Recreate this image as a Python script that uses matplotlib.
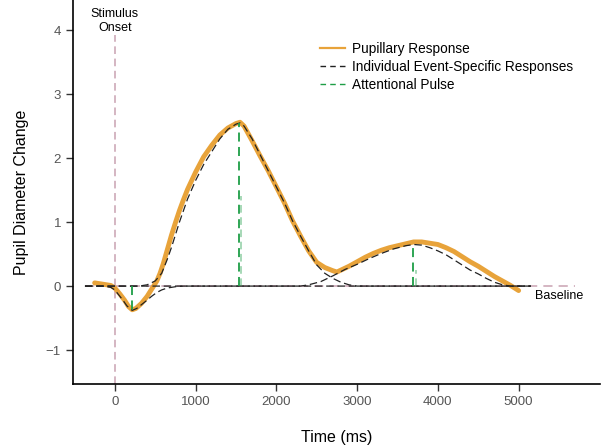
import numpy as np
import matplotlib.pyplot as plt
from matplotlib.lines import Line2D

plt.rcParams['font.family'] = ['Liberation Sans', 'DejaVu Sans']

# Pupillary response
t_pupil = [-250, -150, -50, 0, 60, 120, 170, 215, 260, 330, 400, 455, 520, 560,
           600, 650, 700, 750, 800, 850, 900, 1000, 1100, 1200, 1300, 1400,
           1500, 1550, 1600, 1700, 1800, 1900, 2000, 2100, 2200, 2300, 2400,
           2500, 2600, 2700, 2750, 2800, 2900, 3000, 3100, 3200, 3300, 3400,
           3500, 3600, 3700, 3800, 3900, 4000, 4100, 4200, 4300, 4400, 4500,
           4600, 4700, 4800, 4900, 5000]
pupil = [0.05, 0.03, 0.01, -0.03, -0.12, -0.22, -0.32, -0.37, -0.35, -0.27,
         -0.16, -0.05, 0.08, 0.20, 0.35, 0.57, 0.79, 0.99, 1.18, 1.35, 1.51,
         1.78, 2.02, 2.20, 2.36, 2.47, 2.54, 2.56, 2.50, 2.27, 2.03, 1.80,
         1.55, 1.30, 1.02, 0.78, 0.55, 0.37, 0.29, 0.24, 0.22, 0.25, 0.31,
         0.38, 0.45, 0.51, 0.56, 0.60, 0.63, 0.66, 0.69, 0.69, 0.67, 0.65,
         0.60, 0.54, 0.46, 0.38, 0.31, 0.23, 0.15, 0.08, 0.01, -0.07]

# Individual event-specific responses
t_ev1 = [-370, -150, -50, 0, 50, 100, 150, 215, 270, 330, 400, 455, 520, 580,
         650, 750, 850, 5150]
ev1 = [0, 0, -0.02, -0.06, -0.14, -0.22, -0.31, -0.38, -0.35, -0.29, -0.22,
       -0.16, -0.10, -0.06, -0.03, -0.01, 0, 0]

t_ev2 = [-370, 300, 400, 500, 580, 650, 700, 800, 900, 1000, 1100, 1200, 1300,
         1400, 1500, 1550, 1600, 1700, 1800, 1900, 2000, 2100, 2200, 2300,
         2400, 2500, 2600, 2700, 2800, 2900, 3000, 5150]
ev2 = [0, 0, 0.02, 0.08, 0.20, 0.42, 0.60, 1.00, 1.36, 1.65, 1.90, 2.10, 2.30,
       2.45, 2.53, 2.55, 2.50, 2.30, 2.05, 1.80, 1.55, 1.30, 1.02, 0.78, 0.55,
       0.33, 0.20, 0.12, 0.06, 0.02, 0, 0]

t_ev3 = [-370, 2300, 2400, 2550, 2700, 2850, 3000, 3150, 3300, 3450, 3600,
         3700, 3800, 3900, 4000, 4100, 4200, 4300, 4400, 4500, 4600, 4700,
         4800, 4900, 5150]
ev3 = [0, 0, 0.02, 0.07, 0.16, 0.26, 0.34, 0.43, 0.51, 0.58, 0.63, 0.65, 0.64,
       0.60, 0.55, 0.49, 0.41, 0.33, 0.25, 0.19, 0.12, 0.06, 0.02, 0, 0]

# Attentional pulses: time, height
pulse_t = [215, 1535, 3690]
pulse_h = [-0.37, 2.55, 0.65]
pulse2_t = [1565, 3725]
pulse2_h = [1.4, 0.25]

xticks = [0, 1000, 2000, 3000, 4000, 5000]
yticks = [-1, 0, 1, 2, 3, 4]

orange = '#E8A33A'
green = '#1E9E46'
pink = '#C9A2B2'

fig = plt.figure(figsize=(6.02, 4.46), dpi=100)
ax = fig.add_axes([0.121, 0.139, 0.876, 0.861])

ax.axvline(0, ymin=0, ymax=(3.92 + 1.53) / 6.0, color=pink, lw=1.1, ls=(0, (5, 3)))
ax.plot([-370, 5700], [0, 0], color=pink, lw=1.1, ls=(0, (6, 4)), zorder=1)

ax.plot(t_pupil, pupil, color=orange, lw=3.5, solid_capstyle='round', zorder=2)
for tt, yy in [(t_ev1, ev1), (t_ev2, ev2), (t_ev3, ev3)]:
    ax.plot(tt, yy, color='#222222', lw=0.9, ls=(0, (6, 3)), zorder=3)

for pt, ph in zip(pulse_t, pulse_h):
    ax.plot([pt, pt], [0, ph], color=green, lw=1.3, ls=(0, (5, 3)), zorder=4)
for pt, ph in zip(pulse2_t, pulse2_h):
    ax.plot([pt, pt], [0, ph], color=green, lw=1.1, ls=(0, (5, 3)), alpha=0.5, zorder=4)

ax.text(0, 4.14, 'Stimulus\nOnset', ha='center', va='center', fontsize=9, linespacing=1.3)
ax.text(5200, -0.15, 'Baseline', ha='left', va='center', fontsize=9)

ax.set_xlim(-520, 6010)
ax.set_ylim(-1.53, 4.47)
ax.set_xticks(xticks)
ax.set_yticks(yticks)
ax.set_yticklabels(['\u22121', '0', '1', '2', '3', '4'])
ax.tick_params(colors='#555555', labelsize=9.5, length=5, width=1)
ax.tick_params(axis='both', color='#333333')
for s in ['top', 'right']:
    ax.spines[s].set_visible(False)
for s in ['left', 'bottom']:
    ax.spines[s].set_linewidth(1.2)
ax.set_xlabel('Time (ms)', fontsize=11.5, labelpad=16)
ax.set_ylabel('Pupil Diameter Change', fontsize=11.5, labelpad=12)

handles = [Line2D([], [], color=orange, lw=1.6),
           Line2D([], [], color='#222222', lw=1.0, ls=(0, (4, 3))),
           Line2D([], [], color=green, lw=1.0, ls=(0, (4, 3)))]
labels = ['Pupillary Response', 'Individual Event-Specific Responses', 'Attentional Pulse']
ax.legend(handles, labels, loc='upper left', bbox_to_anchor=(0.446, 0.922),
          frameon=False, fontsize=9.8, handlelength=1.85, labelspacing=0.27,
          handletextpad=0.45)

fig.savefig('out.png', dpi=100)
